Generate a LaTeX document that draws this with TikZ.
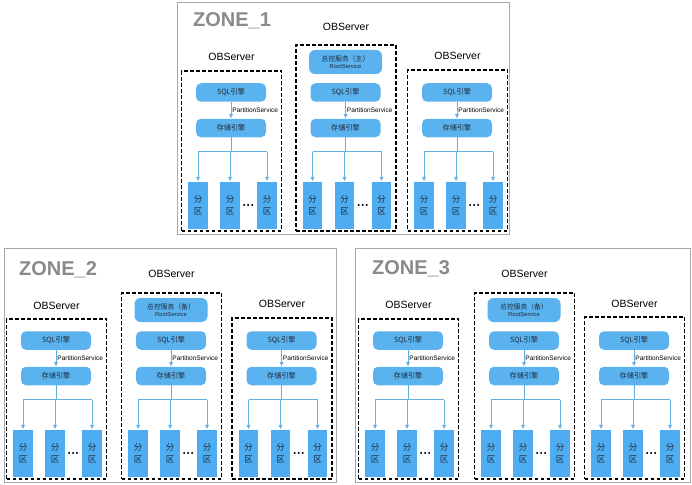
\documentclass[tikz,border=0pt]{standalone}
\usepackage{fontspec}
\setmainfont{Liberation Sans}
\newfontfamily\cjk{Noto Sans CJK SC}
\usetikzlibrary{fit,arrows.meta}
\definecolor{boxblue}{HTML}{5AB2EE}
\definecolor{partblue}{HTML}{4EACF0}
\definecolor{linkblue}{HTML}{64B0E0}
\definecolor{inktext}{HTML}{1E2B3C}
\definecolor{zonegray}{HTML}{A8A8A8}
\definecolor{titlegray}{HTML}{8A8A8A}
\tikzset{
 zonebox/.style={draw=zonegray, line width=1.2pt, anchor=north west, inner sep=0pt},
 ztitle/.style={font=\fontsize{20}{22}\selectfont\bfseries, text=titlegray, inner sep=0pt},
 dbox/.style={draw=black, line width=1.6pt, dash pattern=on 3.6pt off 2.4pt, inner sep=0pt},
 obl/.style={font=\fontsize{10.5}{12}\selectfont, inner sep=0pt},
 sbox/.style={fill=boxblue, rounded corners=5pt, minimum width=70pt, minimum height=18.5pt, inner sep=0pt, font=\cjk\fontsize{7.2}{8}\selectfont, text=inktext},
 rbox/.style={fill=boxblue, rounded corners=6pt, minimum width=73pt, minimum height=24pt, inner sep=0pt, align=center, font=\cjk\fontsize{6.8}{8}\selectfont, text=inktext},
 pbox/.style={fill=partblue, minimum width=19.5pt, minimum height=47pt, inner sep=0pt, align=center, font=\cjk\fontsize{8.5}{11.5}\selectfont, text=inktext},
 conn/.style={draw=linkblue, line width=0.9pt},
 arr/.style={conn, -{Latex[length=4.5pt,width=4.5pt]}},
 ps/.style={font=\fontsize{6.5}{7}\selectfont, inner sep=1pt, anchor=west},
 dotsn/.style={font=\fontsize{12}{12}\selectfont\bfseries, inner sep=0pt}
}
% #1 name, #2 column x, #3 origin y, #4 dashed box top, #5 label y, #6 root text
\newcommand\obsrv[6]{%
\begin{scope}[shift={(#2,#3)}]
 \coordinate (#1-tl) at (-49.5,#4);
 \coordinate (#1-br) at (50.5,229);
 \node[dbox, fit=(#1-tl)(#1-br)] (#1) {};
 \node[obl] (#1-lab) at (0.5,#5) {OBServer};
 \if\relax\detokenize{#6}\relax\else
 \node[rbox] (#1-root) at (0,60) {总控服务（#6）\\[-1pt]{\rmfamily\fontsize{5.8}{6}\selectfont RootService}};
 \fi
 \node[sbox] (#1-sql) at (0,90.5) {SQL引擎};
 \node[sbox] (#1-st) at (0,126) {存储引擎};
 \draw[arr] (#1-sql) -- node[ps] (#1-psl) {PartitionService} (#1-st);
 \node[pbox] (#1-p1) at (-33,203) {分\\区};
 \node[pbox] (#1-p2) at (-1,203) {分\\区};
 \node[pbox] (#1-p3) at (36,203) {分\\区};
 \node[dotsn] (#1-dots) at (17.5,205) {···};
 \coordinate (#1-bus) at (0,149.5);
 \draw[conn] (#1-st) -- (#1-bus);
 \draw[conn] (#1-p1 |- #1-bus) -- (#1-p3 |- #1-bus);
 \foreach \k in {1,2,3} \draw[arr] (#1-p\k |- #1-bus) -- (#1-p\k);
\end{scope}}
\begin{document}
\begin{tikzpicture}[x=1pt,y=-1pt]
\fill[white] (0,0) rectangle (692,484);
\useasboundingbox (0,0) rectangle (692,484);
\node[zonebox, minimum width=332pt, minimum height=232pt] (zone1) at (177,2) {};
\node[zonebox, minimum width=332pt, minimum height=234pt] (zone2) at (4,248) {};
\node[zonebox, minimum width=335pt, minimum height=234pt] (zone3) at (355,248) {};
\node[ztitle] (zone1-t) at (232,21) {ZONE\_1};
\node[ztitle] (zone2-t) at (58,270) {ZONE\_2};
\node[ztitle] (zone3-t) at (411,269) {ZONE\_3};
\obsrv{z1a}{231}{2}{69}{55}{}
\obsrv{z1b}{345.5}{2}{43}{25}{主}
\obsrv{z1c}{457}{2}{68}{54}{}
\obsrv{z2a}{56}{250}{69}{56}{}
\obsrv{z2b}{171}{250}{43}{24}{备}
\obsrv{z2c}{281.5}{250}{68}{54}{}
\obsrv{z3a}{408}{250}{69}{55}{}
\obsrv{z3b}{524}{250}{43}{24}{备}
\obsrv{z3c}{634}{250}{67}{54}{}
\end{tikzpicture}
\end{document}
